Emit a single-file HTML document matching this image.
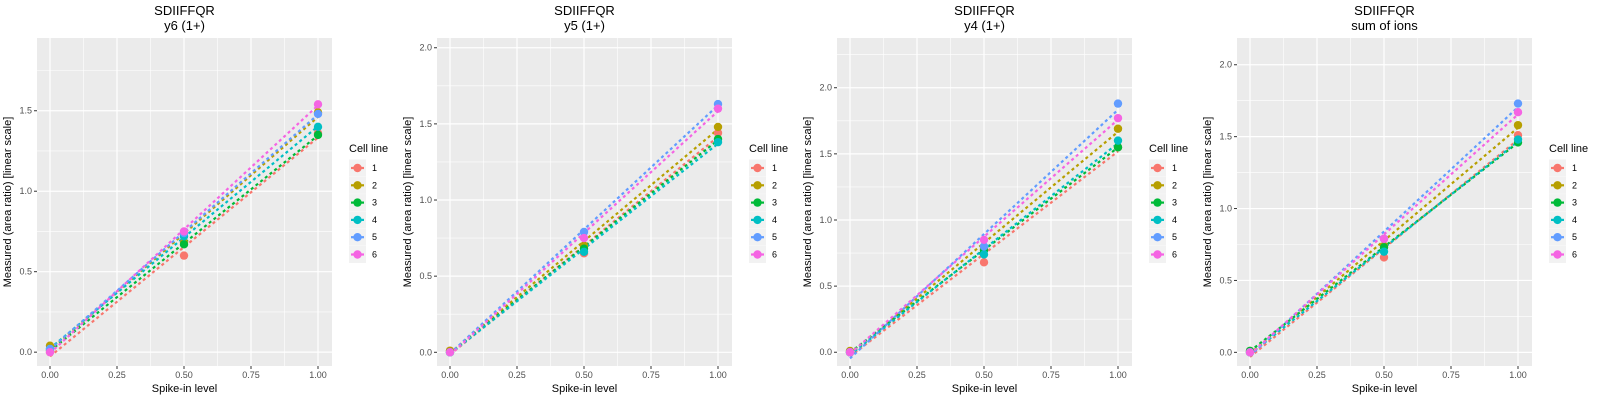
<!DOCTYPE html>
<html><head><meta charset="utf-8">
<style>
html,body{margin:0;padding:0;background:#fff;}
svg{display:block;font-family:"Liberation Sans",sans-serif;}
</style></head>
<body>
<svg id="chart" width="1600" height="400" xmlns="http://www.w3.org/2000/svg"></svg>
<script>
const panelTitles = ["y6 (1+)", "y5 (1+)", "y4 (1+)", "sum of ions"];
const peptide = "SDIIFFQR";
const cellLines = ["1","2","3","4","5","6"];
const colors = ["#F8766D","#B79F00","#00BA38","#00BFC4","#619CFF","#F564E3"];
const spikeLevels = [0, 0.5, 1];
const xTicks = [0, 0.25, 0.5, 0.75, 1];
const xTickLabels = ["0.00","0.25","0.50","0.75","1.00"];
const yTicksP1 = [0, 0.5, 1.0, 1.5];
const yTicksOther = [0, 0.5, 1.0, 1.5, 2.0];
const yMaxes = [1.952, 2.064, 2.376, 2.186];
const yMins = [-0.086, -0.09, -0.104, -0.095];
// values per panel per cell line at spikeLevels
const y6Values = [[0.0,0.60,1.36],[0.04,0.68,1.49],[0.01,0.67,1.35],[0.02,0.72,1.40],[0.02,0.74,1.48],[0.0,0.75,1.54]];
const y5Values = [[0.01,0.65,1.44],[0.01,0.70,1.48],[0.0,0.68,1.40],[0.0,0.66,1.38],[0.0,0.79,1.63],[0.0,0.75,1.60]];
const y4Values = [[0.0,0.68,1.55],[0.01,0.78,1.69],[0.0,0.77,1.55],[0.0,0.74,1.60],[0.0,0.80,1.88],[0.0,0.85,1.77]];
const sumValues = [[0.0,0.66,1.51],[0.01,0.74,1.58],[0.01,0.73,1.46],[0.0,0.70,1.48],[0.0,0.79,1.73],[0.0,0.79,1.67]];
const panelValues = [y6Values, y5Values, y4Values, sumValues];

const NS = "http://www.w3.org/2000/svg";
const svg = document.getElementById("chart");
function mk(tag, attrs, parent){
  const e = document.createElementNS(NS, tag);
  for (const k in attrs) e.setAttribute(k, attrs[k]);
  (parent||svg).appendChild(e);
  return e;
}
function fit(xs, ys){
  const n = xs.length;
  const mx = xs.reduce((a,b)=>a+b,0)/n, my = ys.reduce((a,b)=>a+b,0)/n;
  let sxy=0, sxx=0;
  for(let i=0;i<n;i++){sxy+=(xs[i]-mx)*(ys[i]-my);sxx+=(xs[i]-mx)*(xs[i]-mx);}
  const b = sxy/sxx; return [my-b*mx, b];
}

for (let p=0;p<4;p++){
  const L = 37+400*p, W = 295, T = 38, B = 366;
  const x0 = L+13, x1 = L+281;
  const yMin = yMins[p], yMax = yMaxes[p];
  const xS = v => x0 + v*(x1-x0);
  const yS = v => B - (v-yMin)/(yMax-yMin)*(B-T);
  const g = mk("g", {});
  
  

  const bg = mk("rect", {x:L, y:T, width:W, height:B-T, fill:"#EBEBEB"}, g);
  
  

  const yTicks = p===0 ? yTicksP1 : yTicksOther;
  // minor grid
  for (let i=0;i<xTicks.length-1;i++){
    const xm = xS((xTicks[i]+xTicks[i+1])/2);
    mk("line",{x1:xm,x2:xm,y1:T,y2:B,stroke:"#fff","stroke-width":0.6},g);
  }
  const ym = [];
  for (let v=-0.25; v<=yMax; v+=0.5) if (v>yMin) ym.push(v);
  ym.forEach(v=>{ mk("line",{x1:L,x2:L+W,y1:yS(v),y2:yS(v),stroke:"#fff","stroke-width":0.6},g); });
  // major grid + ticks
  xTicks.forEach((v,i)=>{
    const x = xS(v);
    mk("line",{x1:x,x2:x,y1:T,y2:B,stroke:"#fff","stroke-width":1.2},g);
    mk("line",{x1:x,x2:x,y1:B,y2:B+3,stroke:"#333","stroke-width":1},g);
    const t = mk("text",{x:x,y:B+12,"font-size":9,fill:"#4D4D4D","text-anchor":"middle"},g);
    t.textContent = xTickLabels[i];
    
    
  });
  yTicks.forEach(v=>{
    const y = yS(v);
    mk("line",{x1:L,x2:L+W,y1:y,y2:y,stroke:"#fff","stroke-width":1.2},g);
    mk("line",{x1:L-3,x2:L,y1:y,y2:y,stroke:"#333","stroke-width":1},g);
    const t = mk("text",{x:L-5,y:y+3,"font-size":9,fill:"#4D4D4D","text-anchor":"end"},g);
    t.textContent = v.toFixed(1);
    
    
  });

  // lines
  const vals = panelValues[p];
  vals.forEach((ys,c)=>{
    const [a,b] = fit(spikeLevels, ys);
    const ln = mk("line",{x1:xS(0),y1:yS(a),x2:xS(1),y2:yS(a+b),stroke:colors[c],"stroke-width":2.2,"stroke-dasharray":"3,3"},g);
    
    
  });
  vals.forEach((ys,c)=>{
    ys.forEach((v,k)=>{
      const pt = mk("circle",{cx:xS(spikeLevels[k]),cy:yS(v),r:4.2,fill:colors[c]},g);
      
      
    });
  });

  // titles
  const cx = L + W/2;
  const t1 = mk("text",{x:cx,y:15,"font-size":13,fill:"#000","text-anchor":"middle"},g);
  t1.textContent = peptide;
  
  
  const t2 = mk("text",{x:cx,y:30,"font-size":13,fill:"#000","text-anchor":"middle"},g);
  t2.textContent = panelTitles[p];
  
  
  const xl = mk("text",{x:cx,y:392,"font-size":11,fill:"#000","text-anchor":"middle"},g);
  xl.textContent = "Spike-in level";
  
  
  const ymid = (T+B)/2;
  const yl = mk("text",{x:L-26,y:ymid,"font-size":11,fill:"#000","text-anchor":"middle",transform:`rotate(-90 ${L-26} ${ymid})`},g);
  yl.textContent = "Measured (area ratio) [linear scale]";
  
  

  // legend
  const lx = L+312;
  const lt = mk("text",{x:lx,y:152,"font-size":11,fill:"#000"},g);
  lt.textContent = "Cell line";
  
  
  cellLines.forEach((name,c)=>{
    const cy = 168 + c*17.3;
    const lg = mk("g",{},g);
    
    
    mk("rect",{x:lx,y:cy-8.5,width:17,height:17,fill:"#F2F2F2"},lg);
    mk("line",{x1:lx+2,x2:lx+15,y1:cy,y2:cy,stroke:colors[c],"stroke-width":2.2},lg);
    mk("circle",{cx:lx+8.5,cy:cy,r:4.2,fill:colors[c]},lg);
    const tt = mk("text",{x:lx+23,y:cy+3,"font-size":9,fill:"#000"},lg);
    tt.textContent = name;
  });
}
</script>
</body></html>
